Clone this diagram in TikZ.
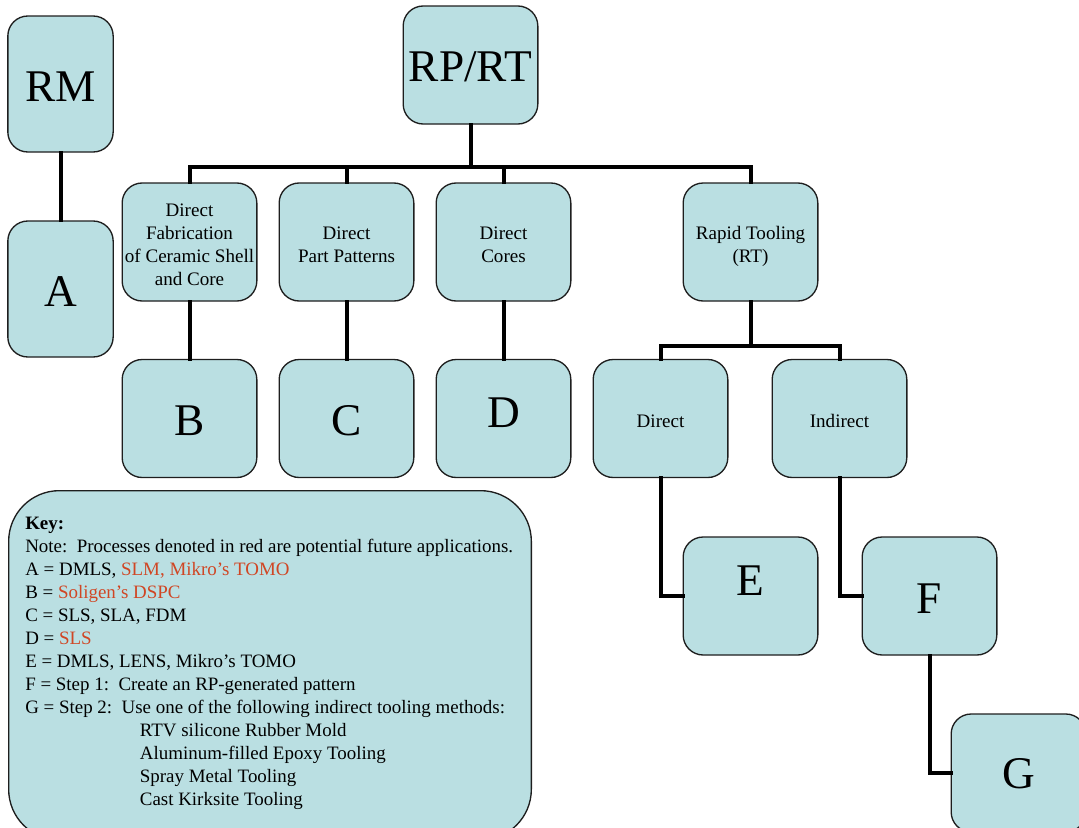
\documentclass[tikz,border=0pt]{standalone}
\usepackage{fontspec}
\setmainfont{Liberation Serif}
\definecolor{boxfill}{RGB}{186,223,226}
\definecolor{boxline}{RGB}{30,30,30}
\definecolor{keyred}{RGB}{208,70,36}
% move a box text down by #1 while keeping the box size it had
\newcommand{\shiftdown}[2]{\raisebox{-#1}[\height][\depth]{#2}}
% multi-line box text
\newcommand{\boxlines}[1]{\shiftdown{3.4pt}{\begin{tabular}{@{}c@{}}#1\end{tabular}}}
\begin{document}
\begin{tikzpicture}[x=0.75pt,y=-0.75pt,
  box/.style={draw=boxline,line width=1pt,fill=boxfill,rounded corners=15pt,
    minimum width=101pt,minimum height=88.5pt,inner sep=0pt,align=center},
  big/.style={box,font=\fontsize{34}{38}\selectfont},
  small/.style={box,font=\fontsize{14.3}{17.25}\selectfont},
  conn/.style={line width=3pt,line join=miter,line cap=rect}]
\useasboundingbox (0,0) rectangle (1079,828);

% top-level boxes
\node[big,minimum width=79pt,minimum height=102pt] (rm) at (60.5,84) {\shiftdown{2.25pt}{RM}};
\node[big,minimum width=79pt,minimum height=102pt] (a) at (60.5,289) {\shiftdown{1.9pt}{A}};
\node[big] (rprt) at (470.5,65) {\shiftdown{1.5pt}{RP/RT}};

% second row
\node[small] (dfab) at (189.5,242) {\boxlines{Direct\\Fabrication\\of Ceramic Shell\\and Core}};
\node[small] (dpp) at (346.5,242) {\boxlines{Direct\\Part Patterns}};
\node[small] (dcores) at (503.5,242) {\boxlines{Direct\\Cores}};
\node[small] (rt) at (750.5,242) {\boxlines{Rapid Tooling\\(RT)}};

% third row
\node[big] (b) at (189.5,418.5) {\shiftdown{1.9pt}{B}};
\node[big] (c) at (346.5,418.5) {\shiftdown{1.9pt}{C}};
\node[big] (d) at (503.5,418.5) {\shiftdown{-4.5pt}{D}};
\node[small] (direct) at (660.5,418.5) {\boxlines{Direct}};
\node[small] (indirect) at (839.5,418.5) {\boxlines{Indirect}};

% tooling steps
\node[big] (e) at (750.5,596) {\shiftdown{-11.25pt}{E}};
\node[big] (f) at (929.5,596) {\shiftdown{1.9pt}{F}};
\node[big] (g) at (1018.5,773) {\shiftdown{0.75pt}{G}};

% key
\node[draw=boxline,line width=1pt,fill=boxfill,rounded corners=38pt,
  minimum width=392pt,minimum height=262pt,anchor=north west] (keybox) at (8,490) {};
\node[anchor=north west,align=left,inner sep=0pt,
  font=\fontsize{14.2}{17.25}\selectfont] (keytext) at (25,517) {%
\textbf{Key:}\\
Note:\ \ Processes denoted in red are potential future applications.\\
A = DMLS, \textcolor{keyred}{SLM, Mikro’s TOMO}\\
B = \textcolor{keyred}{Soligen’s DSPC}\\
C = SLS, SLA, FDM\\
D = \textcolor{keyred}{SLS}\\
E = DMLS, LENS, Mikro’s TOMO\\
F = Step 1:\ \ Create an RP-generated pattern\\
G = Step 2:\ \ Use one of the following indirect tooling methods:\\
\hspace*{86pt}RTV silicone Rubber Mold\\
\hspace*{86pt}Aluminum-filled Epoxy Tooling\\
\hspace*{86pt}Spray Metal Tooling\\
\hspace*{86pt}Cast Kirksite Tooling};

% connectors
\coordinate (bus) at (0,167);
\coordinate (rtbus) at (0,346);
\draw[conn] (rm.south) -- (a.north);
\draw[conn] (rprt.south) -- (rprt.south |- bus);
\draw[conn] (dfab.north) |- (bus -| rt.north) -- (rt.north);
\draw[conn] (dpp.north) -- (dpp.north |- bus);
\draw[conn] (dcores.north) -- (dcores.north |- bus);
\draw[conn] (dfab.south) -- (b.north);
\draw[conn] (dpp.south) -- (c.north);
\draw[conn] (dcores.south) -- (d.north);
\draw[conn] (rt.south) -- (rt.south |- rtbus);
\draw[conn] (direct.north) |- (rtbus -| indirect.north) -- (indirect.north);
\draw[conn] (direct.south) |- (e.west);
\draw[conn] (indirect.south) |- (f.west);
\draw[conn] (f.south) |- (g.west);
\end{tikzpicture}
\end{document}
